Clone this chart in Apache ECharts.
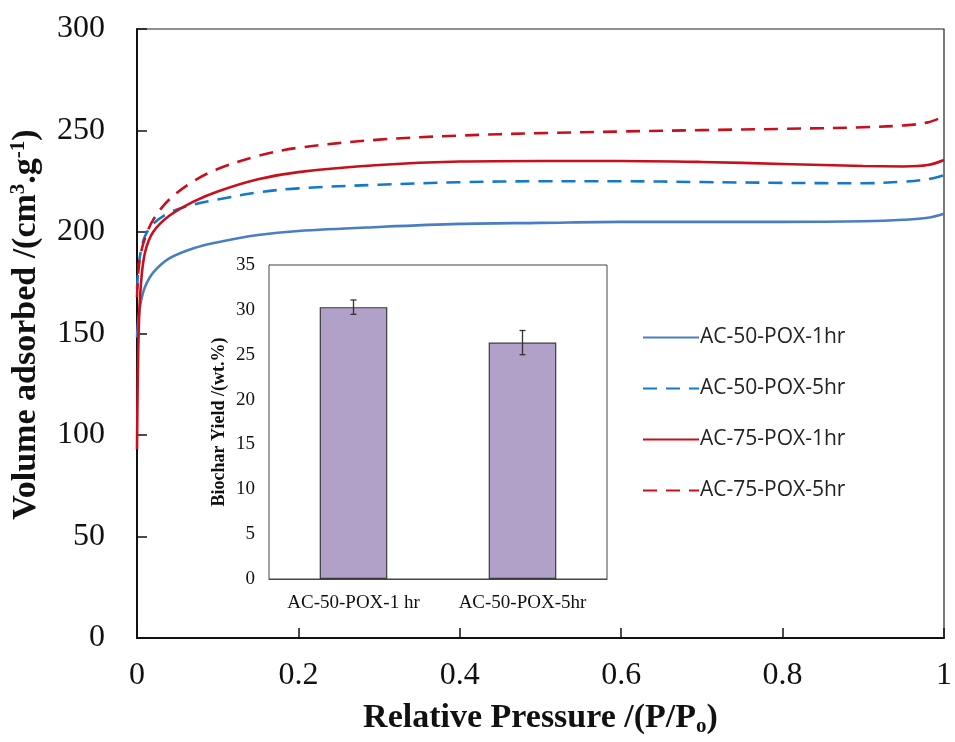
<!DOCTYPE html>
<html>
<head>
<meta charset="utf-8">
<script src="https://cdn.jsdelivr.net/npm/echarts@6/dist/echarts.min.js"></script>
<style>
  html, body { margin: 0; padding: 0; background: #fff; }
  #chart { width: 955px; height: 742px; }
</style>
</head>
<body>
<div id="chart"></div>
<script>
// isotherm data (relative pressure vs volume adsorbed)
var pressure = [0, 0.002, 0.005, 0.01, 0.02, 0.04, 0.07, 0.1, 0.15, 0.2, 0.3, 0.4, 0.5, 0.6, 0.7, 0.8, 0.9, 0.95, 0.98, 1.0];
var ac50_1hr = [148, 158, 166, 173, 180, 187, 192, 195, 198.5, 200.5, 202.5, 204, 204.5, 205, 205, 205, 205.3, 206, 207, 209];
var ac50_5hr = [172, 183, 191, 198, 204, 209.5, 213.5, 216, 219.5, 221.5, 223.3, 224.5, 225, 225, 224.6, 224.2, 224, 224.8, 226, 228];
var ac75_1hr = [93, 150, 175, 190, 200, 208, 215, 220, 226, 229.5, 233, 234.7, 235, 235, 234.5, 233.5, 232.5, 232.3, 233, 235.5];
var ac75_5hr = [168, 182, 190, 197, 206, 216, 225, 231, 237.5, 241.5, 245.5, 247.5, 248.7, 249.5, 250.2, 250.8, 251.6, 252.5, 254, 257];

// inset: biochar yield
var yieldCats = ['AC-50-POX-1 hr', 'AC-50-POX-5hr'];
var yieldVals = [30.3, 26.35];
var yieldErr = [0.8, 1.35];

function pairs(ys) {
  return pressure.map(function (p, i) { return [p, ys[i]]; });
}

var serif = '"Liberation Serif", "DejaVu Serif", serif';

function curve(name, ys, color, dashed) {
  return {
    name: name,
    type: 'line',
    xAxisIndex: 0,
    yAxisIndex: 0,
    data: pairs(ys),
    smooth: 0.35,
    showSymbol: false,
    symbol: 'none',
    lineStyle: { color: color, width: 2.6, type: dashed ? [14, 9] : 'solid' },
    itemStyle: { color: color },
    z: 3
  };
}

var chart = echarts.init(document.getElementById('chart'));
chart.setOption({
  animation: false,
  backgroundColor: '#fff',
  grid: [
    { left: 137, top: 29, right: 6, bottom: 102, show: true, borderColor: '#222', borderWidth: 1.2 },
    { left: 269, top: 265, width: 338, height: 314, show: true, backgroundColor: '#fff', borderColor: '#444', borderWidth: 1, z: 4 }
  ],
  legend: {
    orient: 'vertical',
    left: 637,
    top: 322,
    itemWidth: 56,
    itemHeight: 20,
    itemGap: 30,
    itemStyle: { opacity: 0 },
    textStyle: { fontFamily: '"Open Sans", "Liberation Sans", sans-serif', fontSize: 21, color: '#222', padding: [0, 0, 0, -4] },
    data: ['AC-50-POX-1hr', 'AC-50-POX-5hr', 'AC-75-POX-1hr', 'AC-75-POX-5hr']
  },
  xAxis: [
    {
      type: 'value', gridIndex: 0, min: 0, max: 1, interval: 0.2,
      axisLine: { lineStyle: { color: '#111', width: 2 } },
      axisTick: { inside: true, length: 10, lineStyle: { color: '#111', width: 1.5 } },
      axisLabel: { fontFamily: serif, fontSize: 32, color: '#111', margin: 22,
        formatter: function (v) { return v === 0 ? '0' : (v === 1 ? '1' : v.toFixed(1)); } },
      splitLine: { show: false },
      name: '{b|Relative Pressure /(P/P}{s|o}{b|)}',
      nameLocation: 'middle',
      nameGap: 62,
      nameTextStyle: {
        rich: {
          b: { fontFamily: serif, fontWeight: 'bold', fontSize: 34, color: '#111' },
          s: { fontFamily: serif, fontWeight: 'bold', fontSize: 21, color: '#111', padding: [16, 0, 0, 0] }
        }
      }
    },
    {
      type: 'category', gridIndex: 1, data: yieldCats,
      axisLine: { lineStyle: { color: '#444', width: 1 } },
      axisTick: { inside: true, length: 6, lineStyle: { color: '#444' } },
      axisLabel: { fontFamily: serif, fontSize: 19, color: '#111', margin: 15, interval: 0 }
    }
  ],
  yAxis: [
    {
      type: 'value', gridIndex: 0, min: 0, max: 300, interval: 50,
      axisLine: { show: true, lineStyle: { color: '#111', width: 2 } },
      axisTick: { show: true, inside: true, length: 10, lineStyle: { color: '#111', width: 1.5 } },
      axisLabel: { fontFamily: serif, fontSize: 32, color: '#111', margin: 32 },
      splitLine: { show: false },
      name: '{b|Volume adsorbed /(cm}{s|3}{b|.g}{s|-1}{b|)}',
      nameLocation: 'middle',
      nameRotate: 90,
      nameGap: 92,
      nameTextStyle: {
        padding: [0, 0, 0, 18],
        rich: {
          b: { fontFamily: serif, fontWeight: 'bold', fontSize: 34, color: '#111' },
          s: { fontFamily: serif, fontWeight: 'bold', fontSize: 21, color: '#111', padding: [0, 0, 16, 0] }
        }
      }
    },
    {
      type: 'value', gridIndex: 1, min: 0, max: 35, interval: 5,
      axisLine: { show: true, lineStyle: { color: '#444', width: 1 } },
      axisTick: { show: true, inside: true, length: 6, lineStyle: { color: '#444' } },
      axisLabel: { fontFamily: serif, fontSize: 19, color: '#111', margin: 14 },
      splitLine: { show: false },
      name: 'Biochar Yield /(wt.%)',
      nameLocation: 'middle',
      nameRotate: 90,
      nameGap: 41,
      nameTextStyle: { fontFamily: serif, fontWeight: 'bold', fontSize: 18, color: '#111' }
    }
  ],
  series: [
    curve('AC-50-POX-1hr', ac50_1hr, '#4a7ec4', false),
    curve('AC-50-POX-5hr', ac50_5hr, '#1478cc', true),
    curve('AC-75-POX-1hr', ac75_1hr, '#c8101c', false),
    curve('AC-75-POX-5hr', ac75_5hr, '#c8101c', true),
    {
      name: 'yield',
      type: 'bar',
      xAxisIndex: 1,
      yAxisIndex: 1,
      data: yieldVals,
      barWidth: '40%',
      itemStyle: { color: '#b1a0c7', borderColor: '#3a3a3a', borderWidth: 1.2 },
      z: 5
    },
    {
      name: 'yieldErr',
      type: 'custom',
      xAxisIndex: 1,
      yAxisIndex: 1,
      z: 6,
      data: yieldVals.map(function (v, i) { return [i, v - yieldErr[i], v + yieldErr[i]]; }),
      renderItem: function (params, api) {
        var lo = api.coord([api.value(0), api.value(1)]);
        var hi = api.coord([api.value(0), api.value(2)]);
        var style = { stroke: '#333', lineWidth: 1.3 };
        return {
          type: 'group',
          children: [
            { type: 'line', shape: { x1: hi[0], y1: hi[1], x2: lo[0], y2: lo[1] }, style: style },
            { type: 'line', shape: { x1: hi[0] - 3, y1: hi[1], x2: hi[0] + 3, y2: hi[1] }, style: style },
            { type: 'line', shape: { x1: lo[0] - 3, y1: lo[1], x2: lo[0] + 3, y2: lo[1] }, style: style }
          ]
        };
      }
    }
  ]
});
</script>
</body>
</html>
